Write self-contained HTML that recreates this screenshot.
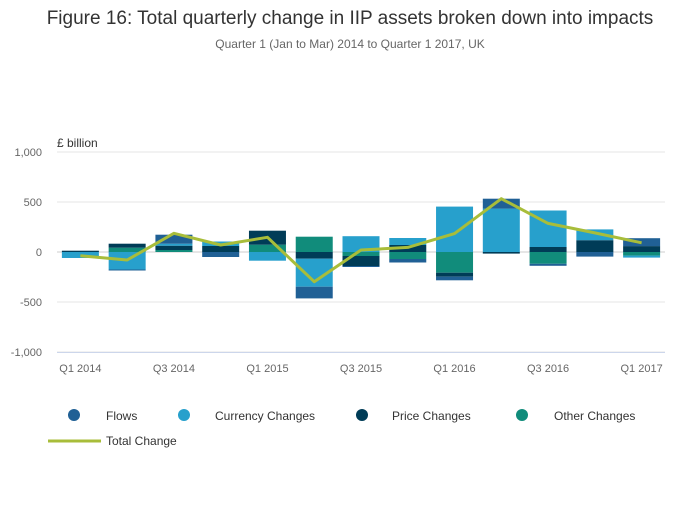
<!DOCTYPE html>
<html><head><meta charset="utf-8"><style>
body{margin:0;background:#fff;font-family:"Liberation Sans",sans-serif}
svg text{font-family:"Liberation Sans",sans-serif}
</style></head><body>
<svg id="c" width="700" height="502" viewBox="0 0 700 502">
<text x="350" y="24" text-anchor="middle" font-size="19" fill="#333">Figure 16: Total quarterly change in IIP assets broken down into impacts</text>
<text x="350" y="48" text-anchor="middle" font-size="12" fill="#666">Quarter 1 (Jan to Mar) 2014 to Quarter 1 2017, UK</text>
<text x="57" y="147" font-size="12" fill="#333">£ billion</text>
<g id="grid"></g><g id="bars"></g><g id="line"></g><g id="axes"></g>
<g>
<circle cx="74" cy="415" r="6" fill="#206095"/>
<text x="106" y="420" font-size="12" fill="#333">Flows</text>
<circle cx="184" cy="415" r="6" fill="#27a0cc"/>
<text x="215" y="420" font-size="12" fill="#333">Currency Changes</text>
<circle cx="362" cy="415" r="6" fill="#003c57"/>
<text x="392" y="420" font-size="12" fill="#333">Price Changes</text>
<circle cx="522" cy="415" r="6" fill="#118c7b"/>
<text x="554" y="420" font-size="12" fill="#333">Other Changes</text>
<line x1="48" y1="441" x2="101" y2="441" stroke="#a8bd3a" stroke-width="3"/>
<text x="106" y="445" font-size="12" fill="#333">Total Change</text>
</g>
</svg>
<script>
const categories=["Q1 2014","Q2 2014","Q3 2014","Q4 2014","Q1 2015","Q2 2015","Q3 2015","Q4 2015","Q1 2016","Q2 2016","Q3 2016","Q4 2016","Q1 2017"];
const flows=[0,-10,90,-50,0,-117,-10,-35,-36,99,-20,-46,79];
const currency=[-60,-175,20,45,-87,-280,158,70,454,434,365,108,-20];
const price=[13,40,43,60,140,-67,-100,70,-40,-16,50,118,59];
const other=[0,43,20,0,73,153,-40,-70,-207,0,-118,0,-36];
const total=[-37,-80,187,70,147,-297,20,46,184,533,286,191,92];
const yTicks=[1000,500,0,-500,-1000];
const yTickLabels=["1,000","500","0","-500","-1,000"];
const NS="http://www.w3.org/2000/svg";
const x0=57,x1=665,bw=37,cw=(x1-x0)/categories.length;
const xc=i=>x0+cw*(i+0.5);
const y=v=>252-v*0.1;
function mk(t,a,p){const e=document.createElementNS(NS,t);for(const k in a)e.setAttribute(k,a[k]);document.getElementById(p).appendChild(e);return e;}
yTicks.forEach((v,i)=>{
 const g=mk('line',{x1:x0,x2:x1,y1:y(v),y2:y(v),stroke:v===0?'#ccc':'#e6e6e6'},'grid');
 
 
 const t=mk('text',{x:42,y:y(v)+4,'text-anchor':'end','font-size':11,fill:'#666'},'axes');
 t.textContent=yTickLabels[i];
 
 
});
const ax=mk('line',{x1:x0,x2:x1,y1:352.5,y2:352.5,stroke:'#ccd6eb'},'axes');


categories.forEach((c,i)=>{
 if(i%2===0){
  const t=mk('text',{x:xc(i),y:372,'text-anchor':'middle','font-size':11,fill:'#666'},'axes');
  t.textContent=c;
  
  
 }
});
const series=[[other,'#118c7b','other'],[price,'#003c57','price'],[currency,'#27a0cc','currency'],[flows,'#206095','flows']];
categories.forEach((c,i)=>{
 let pos=0,neg=0;
 series.forEach(([d,col,nm])=>{
  const v=d[i];if(!v)return;
  let a,b;
  if(v>0){a=pos;b=pos+v;pos=b;}else{a=neg;b=neg+v;neg=b;}
  const r=mk('rect',{x:xc(i)-bw/2,y:Math.min(y(a),y(b)),width:bw,height:Math.abs(y(a)-y(b)),fill:col},'bars');
  
  
 });
});
const pl=mk('polyline',{points:total.map((v,i)=>xc(i)+','+y(v)).join(' '),fill:'none',stroke:'#a8bd3a','stroke-width':3,'stroke-linejoin':'round'},'line');


</script>
</body></html>
